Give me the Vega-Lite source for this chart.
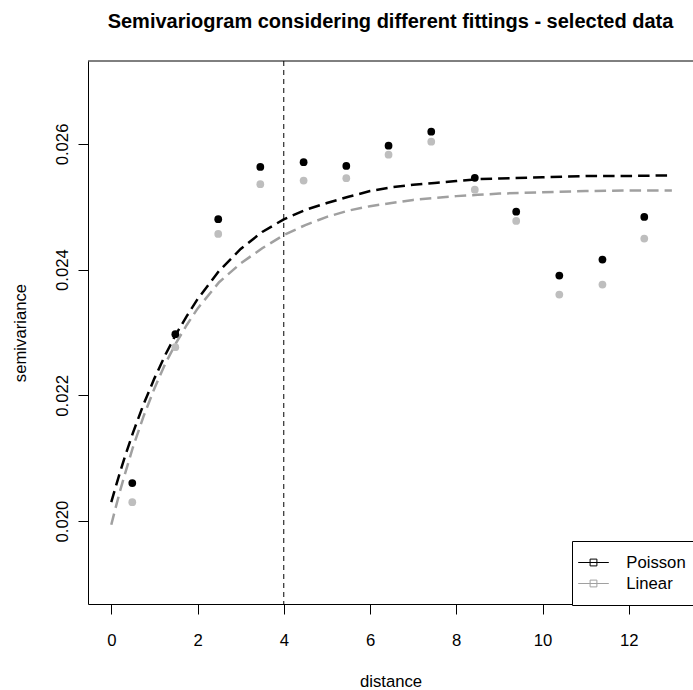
{
  "$schema": "https://vega.github.io/schema/vega-lite/v6.json",
  "autosize": "none",
  "width": 605,
  "height": 543,
  "padding": {"left": 88, "top": 61, "right": 0, "bottom": 86},
  "background": "white",
  "title": {"text": "Semivariogram considering different fittings - selected data", "fontSize": 20, "fontWeight": "bold", "font": "Liberation Sans", "color": "black", "anchor": "middle", "frame": "group", "baseline": "alphabetic", "offset": 12.5},
  "config": {
    "view": {"stroke": null},
    "font": "Liberation Sans",
    "axis": {"labelFont": "Liberation Sans", "titleFont": "Liberation Sans", "labelFontSize": 16.7, "titleFontSize": 16.7, "titleFontWeight": "normal", "labelColor": "black", "titleColor": "black", "domainColor": "black", "tickColor": "black", "grid": false, "tickSize": 10, "domainWidth": 1, "tickWidth": 1}
  },
  "datasets": {
    "points": [
      {"d": 0.487, "gamma": 0.02030, "fit": "Linear"},
      {"d": 1.485, "gamma": 0.022767, "fit": "Linear"},
      {"d": 2.48, "gamma": 0.024569, "fit": "Linear"},
      {"d": 3.456, "gamma": 0.025359, "fit": "Linear"},
      {"d": 4.46, "gamma": 0.025417, "fit": "Linear"},
      {"d": 5.45, "gamma": 0.025455, "fit": "Linear"},
      {"d": 6.43, "gamma": 0.02583, "fit": "Linear"},
      {"d": 7.42, "gamma": 0.026037, "fit": "Linear"},
      {"d": 8.43, "gamma": 0.025272, "fit": "Linear"},
      {"d": 9.39, "gamma": 0.024775, "fit": "Linear"},
      {"d": 10.39, "gamma": 0.023604, "fit": "Linear"},
      {"d": 11.39, "gamma": 0.023763, "fit": "Linear"},
      {"d": 12.36, "gamma": 0.024494, "fit": "Linear"},
      {"d": 0.487, "gamma": 0.020604, "fit": "Poisson"},
      {"d": 1.485, "gamma": 0.022974, "fit": "Poisson"},
      {"d": 2.48, "gamma": 0.024803, "fit": "Poisson"},
      {"d": 3.456, "gamma": 0.025634, "fit": "Poisson"},
      {"d": 4.46, "gamma": 0.025709, "fit": "Poisson"},
      {"d": 5.45, "gamma": 0.02565, "fit": "Poisson"},
      {"d": 6.43, "gamma": 0.025973, "fit": "Poisson"},
      {"d": 7.42, "gamma": 0.026196, "fit": "Poisson"},
      {"d": 8.43, "gamma": 0.025462, "fit": "Poisson"},
      {"d": 9.39, "gamma": 0.024923, "fit": "Poisson"},
      {"d": 10.39, "gamma": 0.023906, "fit": "Poisson"},
      {"d": 11.39, "gamma": 0.02416, "fit": "Poisson"},
      {"d": 12.36, "gamma": 0.024839, "fit": "Poisson"}
    ],
    "curves": [
      {"d": 0, "gamma": 0.02030, "fit": "Poisson"},
      {"d": 0.1, "gamma": 0.02054, "fit": "Poisson"},
      {"d": 0.2, "gamma": 0.02077, "fit": "Poisson"},
      {"d": 0.3, "gamma": 0.02099, "fit": "Poisson"},
      {"d": 0.5, "gamma": 0.02140, "fit": "Poisson"},
      {"d": 0.75, "gamma": 0.02186, "fit": "Poisson"},
      {"d": 1.0, "gamma": 0.02227, "fit": "Poisson"},
      {"d": 1.25, "gamma": 0.02264, "fit": "Poisson"},
      {"d": 1.5, "gamma": 0.02297, "fit": "Poisson"},
      {"d": 1.75, "gamma": 0.02326, "fit": "Poisson"},
      {"d": 2.0, "gamma": 0.02353, "fit": "Poisson"},
      {"d": 2.5, "gamma": 0.02398, "fit": "Poisson"},
      {"d": 3.0, "gamma": 0.02433, "fit": "Poisson"},
      {"d": 3.5, "gamma": 0.02460, "fit": "Poisson"},
      {"d": 4.0, "gamma": 0.02480, "fit": "Poisson"},
      {"d": 4.5, "gamma": 0.02495, "fit": "Poisson"},
      {"d": 5.0, "gamma": 0.02506, "fit": "Poisson"},
      {"d": 5.5, "gamma": 0.02516, "fit": "Poisson"},
      {"d": 6.0, "gamma": 0.02525, "fit": "Poisson"},
      {"d": 6.5, "gamma": 0.02531, "fit": "Poisson"},
      {"d": 7.0, "gamma": 0.02535, "fit": "Poisson"},
      {"d": 7.5, "gamma": 0.02538, "fit": "Poisson"},
      {"d": 8.0, "gamma": 0.02541, "fit": "Poisson"},
      {"d": 8.5, "gamma": 0.02544, "fit": "Poisson"},
      {"d": 9.0, "gamma": 0.02545, "fit": "Poisson"},
      {"d": 10.0, "gamma": 0.02547, "fit": "Poisson"},
      {"d": 11.0, "gamma": 0.02549, "fit": "Poisson"},
      {"d": 12.0, "gamma": 0.02549, "fit": "Poisson"},
      {"d": 13.0, "gamma": 0.02550, "fit": "Poisson"},
      {"d": 0, "gamma": 0.01994, "fit": "Linear"},
      {"d": 0.1, "gamma": 0.02021, "fit": "Linear"},
      {"d": 0.2, "gamma": 0.02047, "fit": "Linear"},
      {"d": 0.3, "gamma": 0.02071, "fit": "Linear"},
      {"d": 0.5, "gamma": 0.02117, "fit": "Linear"},
      {"d": 0.75, "gamma": 0.02167, "fit": "Linear"},
      {"d": 1.0, "gamma": 0.02211, "fit": "Linear"},
      {"d": 1.25, "gamma": 0.02250, "fit": "Linear"},
      {"d": 1.5, "gamma": 0.02283, "fit": "Linear"},
      {"d": 1.75, "gamma": 0.02312, "fit": "Linear"},
      {"d": 2.0, "gamma": 0.02338, "fit": "Linear"},
      {"d": 2.5, "gamma": 0.02380, "fit": "Linear"},
      {"d": 3.0, "gamma": 0.02410, "fit": "Linear"},
      {"d": 3.5, "gamma": 0.02434, "fit": "Linear"},
      {"d": 4.0, "gamma": 0.02455, "fit": "Linear"},
      {"d": 4.5, "gamma": 0.02471, "fit": "Linear"},
      {"d": 5.0, "gamma": 0.02484, "fit": "Linear"},
      {"d": 5.5, "gamma": 0.02494, "fit": "Linear"},
      {"d": 6.0, "gamma": 0.02501, "fit": "Linear"},
      {"d": 6.5, "gamma": 0.02506, "fit": "Linear"},
      {"d": 7.0, "gamma": 0.02511, "fit": "Linear"},
      {"d": 7.5, "gamma": 0.02514, "fit": "Linear"},
      {"d": 8.0, "gamma": 0.02517, "fit": "Linear"},
      {"d": 8.5, "gamma": 0.02519, "fit": "Linear"},
      {"d": 9.0, "gamma": 0.02521, "fit": "Linear"},
      {"d": 10.0, "gamma": 0.02523, "fit": "Linear"},
      {"d": 11.0, "gamma": 0.02525, "fit": "Linear"},
      {"d": 12.0, "gamma": 0.02526, "fit": "Linear"},
      {"d": 13.0, "gamma": 0.02526, "fit": "Linear"}
    ],
    "marker": [{"d": 4}],
    "frame": [{"gamma": 0.02732}]
  },
  "layer": [
    {
      "data": {"name": "frame"},
      "mark": {"type": "rule", "color": "black", "strokeWidth": 1},
      "encoding": {
        "y": {"field": "gamma", "type": "quantitative", "scale": {"domain": [0.01868, 0.02732], "nice": false, "zero": false},
              "axis": {"orient": "left", "values": [0.020, 0.022, 0.024, 0.026], "format": ".3f", "title": "semivariance",
                       "labelAngle": -90, "labelAlign": "center", "labelBaseline": "alphabetic", "labelPadding": 11,
                       "labelFlush": false, "labelOverlap": false,
                       "titleX": -63, "titleY": 271.5, "titleBaseline": "alphabetic", "titleAlign": "center", "titleAngle": 270}}
      }
    },
    {
      "data": {"name": "marker"},
      "mark": {"type": "rule", "color": "black", "strokeWidth": 1, "strokeDash": [5, 4]},
      "encoding": {
        "x": {"field": "d", "type": "quantitative", "scale": {"domain": [-0.54, 13.49], "nice": false, "zero": false},
              "axis": {"orient": "bottom", "values": [0, 2, 4, 6, 8, 10, 12], "format": "d", "title": "distance",
                       "labelPadding": 31.2, "labelBaseline": "alphabetic", "labelFlush": false, "labelOverlap": false,
                       "titleY": 82.5, "titleBaseline": "alphabetic"}}
      }
    },
    {
      "data": {"name": "curves"},
      "mark": {"type": "line", "strokeWidth": 2.5, "strokeDash": [11.5, 6], "strokeCap": "butt"},
      "encoding": {
        "x": {"field": "d", "type": "quantitative", "scale": {"domain": [-0.54, 13.49], "nice": false, "zero": false},
              "axis": {"orient": "bottom", "values": [0, 2, 4, 6, 8, 10, 12], "format": "d", "title": "distance",
                       "labelPadding": 31.2, "labelBaseline": "alphabetic", "labelFlush": false, "labelOverlap": false,
                       "titleY": 82.5, "titleBaseline": "alphabetic"}},
        "y": {"field": "gamma", "type": "quantitative", "scale": {"domain": [0.01868, 0.02732], "nice": false, "zero": false},
              "axis": {"orient": "left", "values": [0.020, 0.022, 0.024, 0.026], "format": ".3f", "title": "semivariance",
                       "labelAngle": -90, "labelAlign": "center", "labelBaseline": "alphabetic", "labelPadding": 11,
                       "labelFlush": false, "labelOverlap": false,
                       "titleX": -63, "titleY": 271.5, "titleBaseline": "alphabetic", "titleAlign": "center", "titleAngle": 270}},
        "color": {"field": "fit", "type": "nominal",
          "scale": {"domain": ["Poisson", "Linear"], "range": ["#000000", "#a0a0a0"]},
          "legend": {"title": null, "orient": "none", "legendX": 484, "legendY": 480, "direction": "vertical",
            "strokeColor": "black", "fillColor": "white", "padding": 12.5,
            "symbolType": "M-1.8,0H1.8M-0.4,-0.4H0.4V0.4H-0.4Z", "symbolSize": 289, "symbolStrokeWidth": 1,
            "symbolFillColor": "transparent", "symbolDash": [],
            "labelFont": "Liberation Sans", "labelFontSize": 16.7, "labelColor": "black", "labelOffset": 23.8, "rowPadding": 3}
        }
      }
    },
    {
      "data": {"name": "points"},
      "mark": {"type": "point", "filled": true, "shape": "circle", "size": 60, "opacity": 1, "strokeWidth": 0},
      "encoding": {
        "x": {"field": "d", "type": "quantitative", "scale": {"domain": [-0.54, 13.49], "nice": false, "zero": false},
              "axis": {"orient": "bottom", "values": [0, 2, 4, 6, 8, 10, 12], "format": "d", "title": "distance",
                       "labelPadding": 31.2, "labelBaseline": "alphabetic", "labelFlush": false, "labelOverlap": false,
                       "titleY": 82.5, "titleBaseline": "alphabetic"}},
        "y": {"field": "gamma", "type": "quantitative", "scale": {"domain": [0.01868, 0.02732], "nice": false, "zero": false},
              "axis": {"orient": "left", "values": [0.020, 0.022, 0.024, 0.026], "format": ".3f", "title": "semivariance",
                       "labelAngle": -90, "labelAlign": "center", "labelBaseline": "alphabetic", "labelPadding": 11,
                       "labelFlush": false, "labelOverlap": false,
                       "titleX": -63, "titleY": 271.5, "titleBaseline": "alphabetic", "titleAlign": "center", "titleAngle": 270}},
        "fill": {"field": "fit", "type": "nominal", "scale": {"domain": ["Linear", "Poisson"], "range": ["#bebebe", "#000000"]}, "legend": null}
      }
    }
  ]
}
